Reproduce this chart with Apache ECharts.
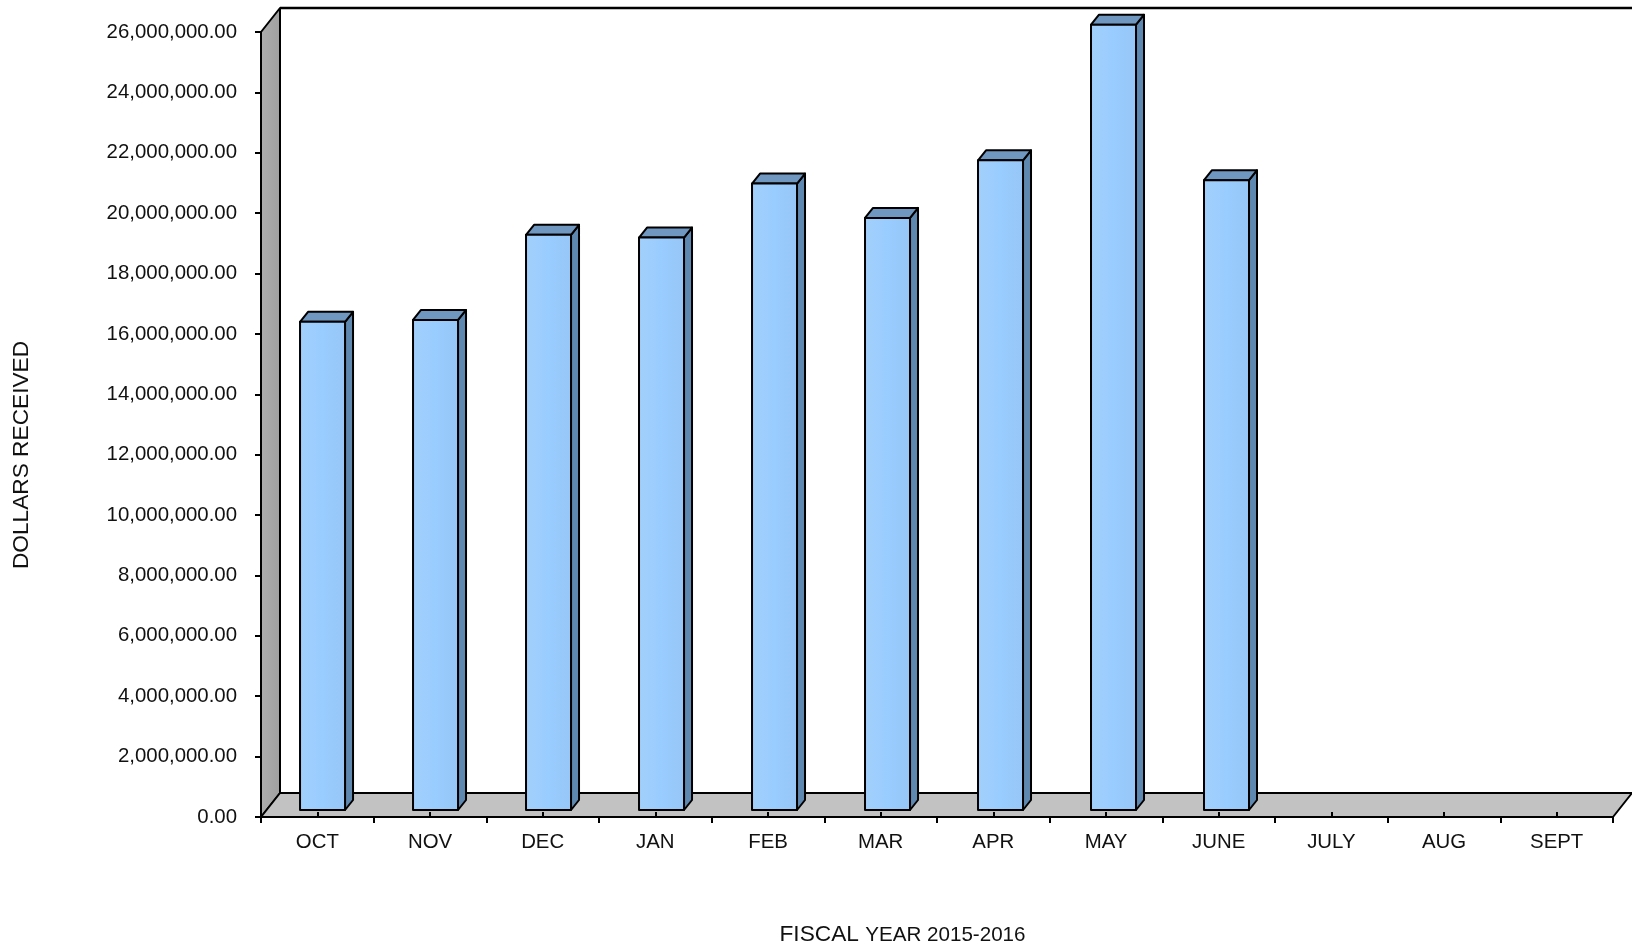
<!DOCTYPE html>
<html>
<head>
<meta charset="utf-8">
<style>html,body{margin:0;padding:0;background:#fff}#chart{width:1632px;height:947px}</style>
<script src="https://cdn.jsdelivr.net/npm/echarts@6/dist/echarts.min.js"></script>
</head>
<body>
<div id="chart"></div>
<script>
// Monthly receipts, fiscal year 2015-2016 (no figures yet for July to September)
const months = ['OCT','NOV','DEC','JAN','FEB','MAR','APR','MAY','JUNE','JULY','AUG','SEPT'];
const received = [16170000,16230000,19050000,18960000,20750000,19610000,21520000,26010000,20860000];
const FONT = '"Liberation Sans", Arial, sans-serif';

// Pseudo-3D geometry, in pixels
const WALL_DX = 19, WALL_DY = -24;   // depth of the chart box
const BAR_DX = 5.2, BAR_DY = -7;     // bar front plane inside the box
const BAR_DRIFT = 0.33;              // the bar plane is slightly wider than the axis, per category
const BAR_W = 45, SIDE_DX = 8, SIDE_DY = -10; // bar width and bar depth
const EDGE = {stroke:'#000', lineWidth:2, lineJoin:'round'};

function poly(points, fill, stroke) {
  return {type:'polygon', shape:{points}, style:Object.assign({fill}, stroke || EDGE)};
}

function renderBox(params, api) {
  const c = params.coordSys;
  const L = c.x, R = c.x + c.width, T = c.y, B = c.y + c.height;
  const dx = WALL_DX, dy = WALL_DY;
  return {type:'group', children:[
    poly([[L,T],[L+dx,T+dy],[L+dx,B+dy],[L,B]], {
      type:'linear',x:0,y:0,x2:1,y2:0,
      colorStops:[{offset:0,color:'#adadad'},{offset:1,color:'#a0a0a0'}]
    }),
    poly([[L,B],[L+dx,B+dy],[R+dx,B+dy],[R,B]], '#c2c2c2'),
    {type:'line', shape:{x1:L+dx,y1:T+dy,x2:1640,y2:T+dy}, style:{stroke:'#000',lineWidth:2.4}}
  ]};
}

function renderBar(params, api) {
  const idx = api.value(0);
  const top = api.coord([idx, api.value(1)]);
  const base = api.coord([idx, 0]);
  const x0 = top[0] + BAR_DX + idx * BAR_DRIFT - BAR_W / 2, x1 = x0 + BAR_W;
  const y0 = top[1] + BAR_DY, y1 = base[1] + BAR_DY;
  const front = {type:'linear',x:0,y:0,x2:1,y2:0,colorStops:[
    {offset:0,color:'#a3d0fb'},{offset:0.5,color:'#99ccff'},{offset:1,color:'#97c6f7'}]};
  return {type:'group', children:[
    poly([[x1,y0],[x1+SIDE_DX,y0+SIDE_DY],[x1+SIDE_DX,y1+SIDE_DY],[x1,y1]], '#5f88b0'),
    poly([[x0,y0],[x0+SIDE_DX,y0+SIDE_DY],[x1+SIDE_DX,y0+SIDE_DY],[x1,y0]], '#6f97c0'),
    poly([[x0,y0],[x1,y0],[x1,y1],[x0,y1]], front)
  ]};
}

const chart = echarts.init(document.getElementById('chart'), null, {renderer:'canvas'});
chart.setOption({
  animation:false,
  backgroundColor:'#fff',
  grid:{left:261, top:32, width:1352, height:785},
  xAxis:[{
    type:'category', data:months, z:6,
    axisLine:{lineStyle:{color:'#000',width:2}},
    axisTick:{show:true, alignWithLabel:false, length:6, lineStyle:{color:'#000',width:2}},
    axisLabel:{color:'#111', fontFamily:FONT, fontSize:20.4, margin:15}
  },{
    // short centre ticks pointing up from the axis
    type:'category', data:months, position:'bottom', z:6,
    axisLine:{show:false},
    axisTick:{show:true, alignWithLabel:true, inside:true, length:5, lineStyle:{color:'#000',width:2}},
    axisLabel:{show:false}
  }],
  yAxis:{
    type:'value', min:0, max:26000000, interval:2000000, z:6,
    axisLine:{show:true, lineStyle:{color:'#000',width:2}},
    axisTick:{show:true, length:6, lineStyle:{color:'#000',width:2}},
    splitLine:{show:false},
    axisLabel:{color:'#111', fontFamily:FONT, fontSize:20.4, margin:24, padding:[3,0,0,0],
      formatter:v => v.toLocaleString('en-US',{minimumFractionDigits:2,maximumFractionDigits:2})}
  },
  series:[
    {type:'custom', clip:false, silent:true, z:1, renderItem:renderBox, data:[[0,0]], encode:{x:0,y:1}},
    {type:'custom', clip:false, z:3, renderItem:renderBar,
     data:received.map((v,i)=>[i,v]), encode:{x:0,y:1}}
  ],
  graphic:[
    {type:'text', silent:true, rotation:Math.PI/2, x:22, y:455,
     style:{text:'DOLLARS RECEIVED', fill:'#111', font:'22.7px '+FONT, align:'center', verticalAlign:'middle'}},
    {type:'text', silent:true, x:902.5, y:935,
     style:{text:'{a|FISCAL }{b|YEAR 2015-2016}', fill:'#111', align:'center', verticalAlign:'middle',
       rich:{a:{fontFamily:FONT,fontSize:22.7,fill:'#111'},b:{fontFamily:FONT,fontSize:20.6,fill:'#111'}}}}
  ]
});
</script>
</body>
</html>
